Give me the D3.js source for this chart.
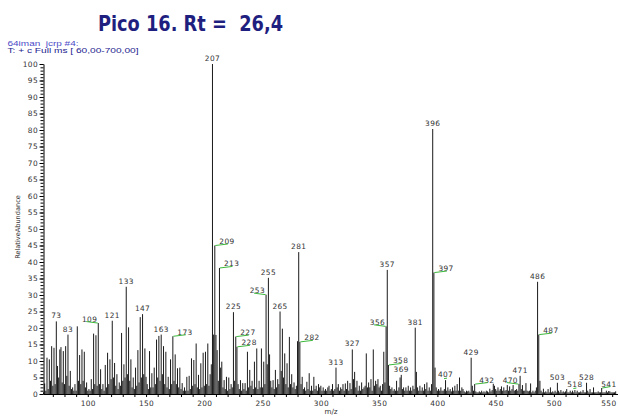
<!DOCTYPE html>
<html>
<head>
<meta charset="utf-8">
<script src="https://cdn.jsdelivr.net/npm/d3@7/dist/d3.min.js"></script>
<style>
  html, body { margin: 0; padding: 0; background: #fff; }
  svg { display: block; }
</style>
</head>
<body>
<script>
// ---- Chart text ----
const titleText = "Pico 16. Rt =  26,4";
const headerLines = ["64iman  jcrp #4:", "T: + c Full ms [ 60,00-700,00]"];
const xAxisTitle = "m/z";
const yAxisTitle = "RelativeAbundance";

// ---- Axis ticks ----
const xTickLabels = [100, 150, 200, 250, 300, 350, 400, 450, 500, 550];
const xMinorTicks = [70, 80, 90, 100, 110, 120, 130, 140, 150, 160, 170, 180, 190, 200, 210, 220, 230, 240, 250,
  260, 270, 280, 290, 300, 310, 320, 330, 340, 350, 360, 370, 380, 390, 400, 410, 420, 430, 440, 450,
  460, 470, 480, 490, 500, 510, 520, 530, 540, 550];
const yTickLabels = [0, 5, 10, 15, 20, 25, 30, 35, 40, 45, 50, 55, 60, 65, 70, 75, 80, 85, 90, 95, 100];

// ---- Spectrum: [m/z, relative abundance %] ----
const lowMass = [
  [62, 0.5], [63, 3.2], [64, 1.0], [65, 11.0], [66, 1.5], [67, 10.5], [68, 4.0], [69, 14.5], [70, 2.5],
  [71, 14.0], [72, 3.0], [73, 22.0], [74, 8.5], [75, 5.0], [76, 13.5], [77, 14.2], [78, 3.5], [79, 13.0],
  [80, 3.0], [81, 14.5], [82, 5.5], [83, 18.0], [84, 2.5], [85, 7.0], [86, 1.5], [87, 2.0], [88, 1.0],
  [89, 3.0], [90, 1.0], [91, 20.5], [92, 4.0], [93, 11.8], [94, 3.0], [95, 13.5], [96, 4.0], [97, 12.8],
  [98, 2.0], [99, 3.5], [100, 1.0], [101, 1.5], [102, 1.0], [103, 4.5], [104, 1.5], [105, 18.3], [106, 3.0],
  [107, 17.8], [108, 2.5], [109, 21.5], [110, 3.0], [111, 7.5], [112, 1.5], [113, 3.0], [114, 1.0],
  [115, 8.8], [116, 2.0], [117, 12.5], [118, 3.0], [119, 10.5], [120, 4.5], [121, 22.2], [122, 5.0],
  [123, 9.4], [124, 2.5], [125, 6.0], [126, 1.5], [127, 3.5], [128, 2.5], [129, 18.5], [130, 4.0],
  [131, 9.0], [132, 5.0], [133, 32.5], [134, 6.0], [135, 20.2], [136, 4.0], [137, 10.5], [138, 2.0],
  [139, 5.0], [140, 1.5], [141, 8.0], [142, 2.5], [143, 13.3], [144, 3.5], [145, 23.3], [146, 5.0],
  [147, 24.2], [148, 6.0], [149, 13.8], [150, 5.2], [151, 3.0], [152, 1.5], [153, 13.0], [154, 2.0],
  [155, 6.3], [156, 2.0], [157, 8.0], [158, 3.0], [159, 16.5], [160, 5.0], [161, 17.6], [162, 4.0],
  [163, 18.0], [164, 6.0], [165, 14.5], [166, 3.0], [167, 12.8], [168, 2.0], [169, 5.2], [170, 1.5],
  [171, 10.5], [172, 3.0], [173, 17.5], [174, 4.0], [175, 12.0], [176, 3.0], [177, 7.8], [178, 2.0],
  [179, 8.0], [180, 1.5], [181, 3.3], [182, 1.0], [183, 2.0], [184, 1.0], [185, 5.2], [186, 1.0],
  [187, 5.5], [188, 1.5], [189, 10.8], [190, 2.5], [191, 10.3], [192, 3.0], [193, 15.3], [194, 2.0],
  [195, 5.8], [196, 1.5], [197, 9.3], [198, 2.0], [199, 12.5], [200, 2.5]
];
const midMass = [
  [201, 12.8], [202, 3.0], [203, 15.3], [204, 2.5], [205, 6.0], [206, 9.0], [207, 100], [208, 18.0],
  [209, 45.0], [210, 17.9], [211, 13.3], [212, 4.0], [213, 38.2], [214, 8.0], [215, 9.8], [216, 2.0],
  [217, 4.2], [218, 1.5], [219, 5.2], [220, 1.0], [221, 5.0], [222, 1.5], [223, 3.0], [224, 2.0],
  [225, 24.8], [226, 4.0], [227, 17.4], [228, 14.3], [229, 3.0], [230, 1.5], [231, 4.2], [232, 1.0],
  [233, 3.3], [234, 1.5], [235, 3.3], [236, 1.0], [237, 12.8], [238, 2.0], [239, 7.3], [240, 2.5],
  [241, 4.0], [242, 1.5], [243, 9.8], [244, 2.0], [245, 13.8], [246, 1.5], [247, 4.0], [248, 2.0],
  [249, 13.8], [250, 2.0], [251, 9.8], [252, 3.0], [253, 30.1], [254, 9.0], [255, 35.2], [256, 12.0],
  [257, 4.0], [258, 2.0], [259, 4.2], [260, 1.5], [261, 7.3], [262, 2.0], [263, 4.5], [264, 3.0],
  [265, 25.0], [266, 7.0], [267, 19.8], [268, 5.0], [269, 12.3], [270, 3.0], [271, 9.3], [272, 2.0],
  [273, 17.3], [274, 3.0], [275, 6.0], [276, 2.0], [277, 3.5], [278, 1.5], [279, 2.5], [280, 16.0],
  [281, 43.0], [282, 15.8], [283, 3.0], [284, 5.2], [285, 1.5], [286, 2.0], [287, 1.0], [288, 3.7],
  [289, 1.5], [290, 6.3], [291, 1.0], [292, 2.5], [293, 1.0], [294, 5.2], [295, 1.5], [296, 2.5],
  [297, 1.0], [298, 3.0], [299, 2.0], [300, 2.5], [301, 1.0], [302, 2.0], [303, 1.0], [304, 1.5],
  [305, 1.0], [306, 2.0], [307, 2.5], [308, 1.0], [309, 1.5], [310, 3.0], [311, 1.0], [312, 1.5],
  [313, 8.0], [314, 2.0], [315, 3.0], [316, 1.0], [317, 2.0], [318, 1.5], [319, 3.0], [320, 1.0],
  [321, 3.2], [322, 1.5], [323, 4.0], [324, 1.0], [325, 3.3], [326, 1.5], [327, 13.5], [328, 4.5],
  [329, 6.7], [330, 2.0], [331, 4.0], [332, 1.0], [333, 2.5], [334, 1.0], [335, 3.5], [336, 1.5],
  [337, 2.0], [338, 2.5], [339, 12.3], [340, 2.0], [341, 3.5], [342, 2.0], [343, 4.5], [344, 1.0],
  [345, 13.5], [346, 2.5], [347, 4.0], [348, 3.0], [349, 4.5], [350, 2.0], [351, 2.5], [352, 1.0],
  [353, 3.0], [354, 12.8], [355, 3.5], [356, 20.5], [357, 37.6], [358, 8.8], [359, 2.5], [360, 1.5],
  [361, 2.0], [362, 1.0], [363, 1.5], [364, 1.0], [365, 4.0], [366, 1.0], [367, 2.0], [368, 5.0],
  [369, 5.8], [370, 1.5], [371, 2.0], [372, 1.0], [373, 2.0], [374, 1.0], [375, 2.5], [376, 1.0],
  [377, 2.0], [378, 1.0], [379, 2.5], [380, 1.5], [381, 20.1], [382, 6.7], [383, 2.0], [384, 1.0],
  [385, 2.5], [386, 1.0], [387, 2.0], [388, 1.0], [389, 3.0], [390, 1.5], [391, 3.5], [392, 1.0],
  [393, 2.0], [394, 1.0], [395, 3.0], [396, 80.3], [397, 36.8], [398, 8.0], [399, 2.0], [400, 1.0]
];
const highMass = [
  [401, 1.5], [402, 1.0], [403, 2.0], [404, 1.0], [405, 1.0], [406, 1.5], [407, 4.2], [408, 1.0],
  [409, 2.0], [410, 1.0], [411, 1.5], [412, 0.8], [413, 2.0], [414, 1.0], [415, 2.5], [416, 1.0],
  [417, 3.0], [418, 1.0], [419, 5.0], [420, 1.0], [421, 2.0], [422, 1.5], [423, 0.8], [424, 0.5],
  [425, 1.0], [426, 0.8], [427, 1.0], [428, 0.5], [429, 11.0], [430, 2.5], [431, 1.0], [432, 3.0],
  [433, 0.8], [434, 0.5], [435, 0.5], [436, 0.8], [437, 0.5], [438, 1.0], [439, 0.5], [440, 0.8],
  [441, 0.5], [442, 1.0], [443, 0.8], [444, 0.5], [445, 1.6], [446, 0.8], [447, 1.2], [448, 3.1],
  [449, 2.5], [450, 1.5], [451, 1.0], [452, 2.0], [453, 1.0], [454, 1.5], [455, 2.3], [456, 1.0],
  [457, 2.0], [458, 1.0], [459, 1.2], [460, 2.7], [461, 1.0], [462, 2.3], [463, 1.0], [464, 1.5],
  [465, 2.7], [466, 1.0], [467, 1.2], [468, 1.5], [469, 1.0], [470, 3.0], [471, 5.5], [472, 1.5],
  [473, 2.7], [474, 1.0], [475, 1.0], [476, 3.3], [477, 1.0], [478, 0.8], [479, 1.0], [480, 3.2],
  [481, 0.5], [482, 1.0], [483, 0.5], [484, 1.0], [485, 2.0], [486, 34.0], [487, 18.0], [488, 4.0],
  [489, 1.0], [490, 0.5], [491, 1.6], [492, 0.5], [493, 0.8], [494, 0.5], [495, 1.5], [496, 0.5],
  [497, 2.0], [498, 0.5], [499, 0.8], [500, 0.5], [501, 1.0], [502, 0.5], [503, 3.4], [504, 1.0],
  [505, 0.5], [506, 1.2], [507, 0.5], [508, 0.8], [509, 0.5], [510, 0.8], [511, 1.5], [512, 0.5],
  [513, 0.5], [514, 1.0], [515, 0.5], [516, 1.0], [517, 0.5], [518, 1.2], [519, 0.5], [520, 1.0],
  [521, 0.5], [522, 0.5], [523, 0.8], [524, 0.5], [525, 1.2], [526, 0.5], [527, 0.5], [528, 3.4],
  [529, 1.0], [530, 0.5], [531, 1.5], [532, 0.5], [533, 0.5], [534, 2.0], [535, 0.5], [536, 0.5],
  [537, 0.5], [538, 0.8], [539, 0.5], [540, 0.5], [541, 1.8], [542, 0.5], [543, 0.5], [544, 0.5],
  [545, 1.0], [546, 0.5], [547, 0.9], [548, 0.8], [549, 0.5], [550, 0.5], [551, 0.5], [552, 0.5],
  [553, 0.8]
];

// ---- Annotated peaks (m/z) ----
const labeledPeaks = [73, 83, 109, 121, 133, 147, 163, 173, 207, 209, 213, 225, 227, 228, 253, 255, 265,
  281, 282, 313, 327, 356, 357, 358, 369, 381, 396, 397, 407, 429, 432, 470, 471, 486, 487, 503, 518, 528, 541];
// Labels pushed aside from their peak get a green leader line
const labelsRight = [173, 209, 213, 227, 228, 282, 358, 397, 432, 487, 541];
const labelsLeft = [109, 253, 356, 470];
const labelsTick = [407, 518];

// ---- Layout ----
const W = 618, H = 416;
const plot = { left: 43.5, right: 618, top: 64, bottom: 394 };
const edgeLimit = 616.5;
const smallFont = "'DejaVu Sans', sans-serif";
const textGrey = "#333333";
const leaderGreen = "#3cb93c";

const spectrum = lowMass.concat(midMass, highMass);
const abundanceOf = new Map(spectrum);

const x = d3.scaleLinear().domain([62, 555]).range([plot.left, plot.right]);
const y = d3.scaleLinear().domain([0, 100]).range([plot.bottom, plot.top]);

const svg = d3.select("body").append("svg")
  .attr("width", W).attr("height", H)
  .attr("viewBox", `0 0 ${W} ${H}`);

svg.append("rect").attr("width", W).attr("height", H).attr("fill", "#fff");

// Keep a text element inside the right edge of the drawing
function keepInside(sel) {
  sel.each(function () {
    const b = this.getBBox();
    const over = b.x + b.width - edgeLimit;
    if (over > 0) {
      const cur = +d3.select(this).attr("x") || 0;
      d3.select(this).attr("x", cur - over);
    }
  });
}

// Title
svg.append("text")
  .attr("x", 98).attr("y", 30.5)
  .attr("textLength", 185).attr("lengthAdjust", "spacingAndGlyphs")
  .style("white-space", "pre")
  .attr("font-family", "'DejaVu Sans', sans-serif")
  .attr("font-weight", "bold")
  .attr("font-size", 21)
  .attr("fill", "#1f1f80")
  .text(titleText);

// Scan header
const headerColors = ["#4b4bc8", "#23238f"];
const headerLengths = [71, 131];
headerLines.forEach((line, i) => {
  svg.append("text")
    .attr("x", 7.5).attr("y", 45.5 + i * 7.8)
    .attr("textLength", headerLengths[i]).attr("lengthAdjust", "spacingAndGlyphs")
    .style("white-space", "pre")
    .attr("font-family", "'Liberation Sans', Arial, sans-serif")
    .attr("font-size", 7.6)
    .attr("fill", headerColors[i])
    .text(line);
});

// Spectrum sticks
svg.append("g")
  .selectAll("line")
  .data(spectrum)
  .join("line")
  .attr("x1", d => x(d[0])).attr("x2", d => x(d[0]))
  .attr("y1", y(0)).attr("y2", d => y(d[1]))
  .attr("stroke", "#1a1a1a")
  .attr("stroke-width", 1);

// Y axis: minor ticks every 1 %, labelled every 5 %
const yMinor = svg.append("g")
  .attr("transform", `translate(${plot.left},0)`)
  .call(d3.axisLeft(y).tickValues(d3.range(0, 101, 1)).tickSize(3).tickSizeOuter(0).tickFormat(""));
yMinor.select(".domain").attr("stroke", "#000");
yMinor.selectAll(".tick line").attr("stroke", "#000");

const yAxis = svg.append("g")
  .attr("transform", `translate(${plot.left},0)`)
  .call(d3.axisLeft(y).tickValues(yTickLabels).tickSize(4).tickPadding(1.5).tickSizeOuter(0));
yAxis.select(".domain").remove();
yAxis.selectAll(".tick line").attr("stroke", "#000");
yAxis.selectAll(".tick text")
  .attr("font-family", smallFont).attr("font-size", 7.4)
  .attr("letter-spacing", 0.4)
  .attr("fill", textGrey);

// X axis: ticks every 10, labelled every 50
const xMinor = svg.append("g")
  .attr("transform", `translate(0,${plot.bottom})`)
  .call(d3.axisBottom(x).tickValues(xMinorTicks).tickSize(3).tickSizeOuter(0).tickFormat(""));
xMinor.select(".domain").attr("stroke", "#000");
xMinor.selectAll(".tick line").attr("stroke", "#000");

const xAxis = svg.append("g")
  .attr("transform", `translate(0,${plot.bottom})`)
  .call(d3.axisBottom(x).tickValues(xTickLabels).tickSize(3).tickPadding(4).tickSizeOuter(0));
xAxis.select(".domain").remove();
xAxis.selectAll(".tick line").remove();
xAxis.selectAll(".tick text")
  .attr("font-family", smallFont).attr("font-size", 7.4)
  .attr("letter-spacing", 0.4)
  .attr("fill", textGrey);
// the last tick label sits against the edge; shift it in via its tick group offset
xAxis.selectAll(".tick").each(function () {
  const g = d3.select(this);
  const tx = +g.attr("transform").match(/translate\(([-\d.]+)/)[1];
  const b = g.select("text").node().getBBox();
  const over = tx + b.x + b.width - edgeLimit;
  if (over > 0) g.select("text").attr("x", -over);
});

// Axis titles
svg.append("text")
  .attr("x", 331).attr("y", 414)
  .attr("text-anchor", "middle")
  .attr("font-family", smallFont).attr("font-size", 7.2)
  .attr("fill", textGrey)
  .text(xAxisTitle);

svg.append("text")
  .attr("transform", `translate(19.5,227) rotate(-90)`)
  .attr("text-anchor", "middle")
  .attr("font-family", smallFont).attr("font-size", 6.6)
  .attr("fill", textGrey)
  .text(yAxisTitle);

// Peak annotations
const ann = svg.append("g");
labeledPeaks.forEach(mz => {
  const px = x(mz), py = y(abundanceOf.get(mz));
  let side = "center";
  if (labelsRight.includes(mz)) side = "right";
  else if (labelsLeft.includes(mz)) side = "left";
  else if (labelsTick.includes(mz)) side = "tick";

  const t = ann.append("text")
    .attr("font-family", smallFont).attr("font-size", 7.4)
    .attr("letter-spacing", 0.4)
    .attr("fill", textGrey)
    .text(mz);

  if (side === "center" || side === "tick") {
    t.attr("x", px).attr("y", py - 3).attr("text-anchor", "middle");
    if (side === "tick") {
      ann.append("line")
        .attr("x1", px - 1.5).attr("x2", px + 1.5)
        .attr("y1", py - 1.5).attr("y2", py - 2)
        .attr("stroke", leaderGreen).attr("stroke-width", 1);
    }
  } else if (side === "right") {
    t.attr("x", px + 4.5).attr("y", py - 1.5).attr("text-anchor", "start");
    ann.append("line")
      .attr("x1", px + 0.5).attr("x2", Math.min(px + 13, edgeLimit - 6))
      .attr("y1", py).attr("y2", py - 1.5)
      .attr("stroke", leaderGreen).attr("stroke-width", 1);
  } else {
    t.attr("x", px - 1).attr("y", py - 1.5).attr("text-anchor", "end");
    ann.append("line")
      .attr("x1", px - 0.5).attr("x2", px - 12)
      .attr("y1", py).attr("y2", py - 1.5)
      .attr("stroke", leaderGreen).attr("stroke-width", 1);
  }
  keepInside(t);
});
</script>
</body>
</html>
